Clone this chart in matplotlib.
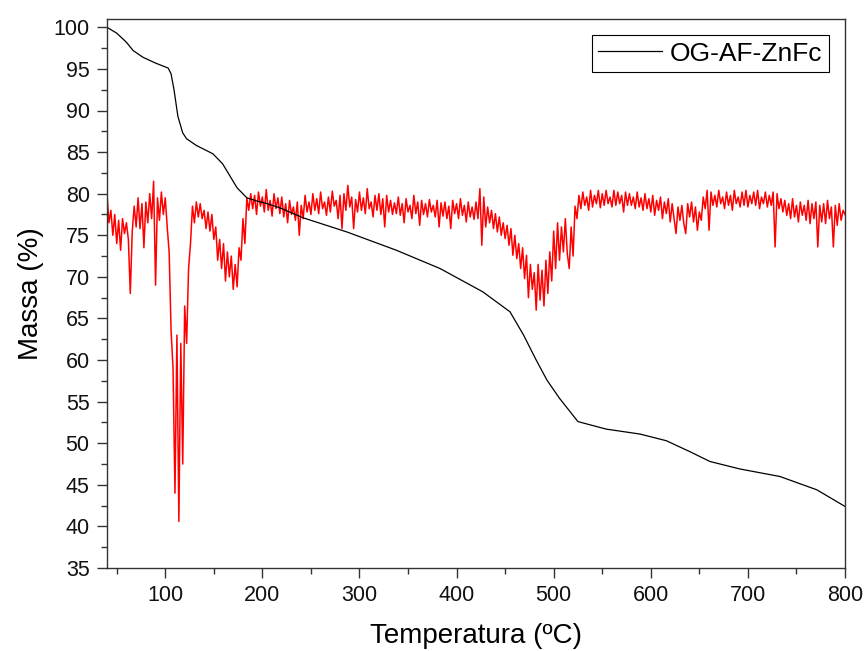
"""TGA / DTG curve for OG-AF-ZnFc."""
import numpy as np
import matplotlib
matplotlib.use("Agg")
import matplotlib.pyplot as plt
from matplotlib.ticker import MultipleLocator

plt.rcParams["font.family"] = ["Liberation Sans", "DejaVu Sans"]

# --- TGA mass loss (black) ---
tga_temp = [40, 50, 60, 67, 77, 90, 103, 106, 109, 113, 118, 122, 132, 149, 159,
            174, 184, 195, 205, 218, 242, 287, 338, 383, 427, 455, 469, 482,
            493, 506, 525, 554, 589, 616, 640, 661, 692, 733, 771, 800]
tga_mass = [100.0, 99.3, 98.2, 97.2, 96.4, 95.7, 95.1, 94.4, 92.5, 89.3, 87.3,
            86.6, 85.8, 84.8, 83.6, 80.7, 79.5, 79.1, 78.8, 78.3, 77.1, 75.4,
            73.2, 71.0, 68.2, 65.8, 63.0, 60.0, 57.6, 55.4, 52.6, 51.7, 51.1,
            50.3, 49.0, 47.8, 46.9, 46.0, 44.4, 42.4]

# --- DTG signal (red), sampled every 2 C from 40 to 800 ---
dtg_start, dtg_step = 40, 2
dtg_vals = [
    80.0, 76.5, 78.0, 75.0, 77.5, 74.0, 76.8, 73.2, 77.0, 75.2,   # 40
    76.5, 74.5, 68.0, 75.5, 78.5, 76.0, 79.5, 75.8, 78.8, 73.5,   # 60
    79.0, 76.5, 80.0, 77.0, 81.5, 69.0, 79.5, 76.8, 80.2, 77.5,   # 80
    79.5, 76.0, 73.0, 63.5, 59.0, 44.0, 63.0, 40.6, 62.0, 47.5,   # 100
    66.5, 62.0, 71.0, 74.0, 78.5, 76.5, 79.0, 77.2, 78.8, 77.0,   # 120
    78.0, 75.8, 77.8, 75.5, 77.5, 74.5, 76.0, 72.0, 74.5, 71.0,   # 140
    74.0, 69.5, 73.0, 70.0, 72.5, 68.5, 71.5, 68.8, 73.5, 72.0,   # 160
    77.0, 74.0, 79.5, 78.0, 80.0, 78.2, 79.8, 77.5, 80.2, 78.5,   # 180
    79.6, 77.8, 80.5, 78.0, 79.2, 77.3, 80.0, 78.2, 79.5, 77.6,   # 200
    79.6, 77.2, 78.8, 76.5, 79.2, 77.5, 78.4, 76.8, 79.0, 75.0,   # 220
    78.6, 77.0, 79.8, 77.8, 79.0, 77.5, 80.0, 78.0, 79.4, 77.6,   # 240
    80.2, 78.2, 79.0, 77.4, 79.6, 77.8, 80.3, 78.5, 79.2, 77.0,   # 260
    79.8, 75.8, 80.0, 78.0, 81.0, 78.4, 79.6, 75.8, 79.3, 77.8,   # 280
    80.2, 78.0, 79.5, 77.6, 80.6, 78.2, 79.0, 77.2, 79.8, 78.0,   # 300
    80.0, 77.5, 79.4, 76.0, 79.8, 77.8, 79.2, 77.5, 78.9, 77.6,   # 320
    79.6, 77.4, 78.8, 76.5, 79.4, 77.8, 78.6, 77.0, 79.8, 77.6,   # 340
    79.0, 76.2, 79.2, 77.5, 78.8, 77.2, 79.3, 77.8, 78.6, 77.2,   # 360
    79.2, 76.0, 78.9, 77.3, 79.0, 77.0, 78.5, 75.8, 79.2, 77.6,   # 380
    78.8, 77.0, 79.4, 77.4, 78.6, 76.6, 79.0, 77.2, 78.4, 76.9,   # 400
    79.0, 77.0, 80.6, 73.8, 79.6, 76.0, 78.4, 76.5, 78.0, 75.8,   # 420
    77.6, 75.4, 77.2, 75.0, 76.5, 74.6, 76.2, 73.8, 75.8, 72.6,   # 440
    75.0, 72.2, 74.0, 71.0, 73.5, 69.8, 72.6, 67.5, 71.5, 68.5,   # 460
    70.5, 66.0, 71.5, 67.2, 70.8, 66.5, 72.0, 68.0, 73.0, 69.5,   # 480
    75.5, 71.0, 76.5, 72.0, 76.0, 73.0, 77.0, 72.8, 71.0, 76.0,   # 500
    72.5, 78.5, 77.0, 79.8, 78.2, 80.2, 78.6, 79.6, 78.0, 80.4,   # 520
    78.4, 79.8, 78.8, 80.4, 78.3, 80.0, 78.6, 80.4, 78.8, 79.6,   # 540
    78.4, 80.4, 78.6, 80.2, 78.8, 79.8, 77.8, 80.2, 78.6, 80.0,   # 560
    78.6, 79.6, 78.2, 80.2, 78.4, 79.5, 78.0, 80.0, 78.2, 79.4,   # 580
    77.8, 79.8, 77.4, 79.2, 78.0, 79.6, 77.0, 79.0, 77.6, 79.4,   # 600
    76.6, 78.8, 77.0, 75.2, 78.4, 76.8, 78.6, 76.4, 75.2, 78.8,   # 620
    77.2, 79.0, 76.6, 78.4, 75.6, 77.8, 76.8, 79.6, 78.2, 80.4,   # 640
    75.6, 80.2, 78.6, 79.8, 78.4, 80.4, 78.8, 79.6, 78.2, 80.2,   # 660
    78.6, 79.8, 78.0, 80.4, 78.8, 79.6, 78.4, 80.2, 78.6, 80.4,   # 680
    78.4, 79.8, 78.8, 80.2, 78.6, 80.4, 78.2, 79.6, 78.8, 80.2,   # 700
    78.4, 79.8, 78.6, 80.2, 73.6, 80.0, 78.2, 79.4, 77.8, 79.2,   # 720
    77.4, 78.8, 77.0, 79.4, 77.2, 78.6, 76.6, 79.0, 77.4, 78.6,   # 740
    76.8, 79.2, 76.4, 78.8, 77.0, 79.0, 73.6, 78.6, 76.6, 78.8,   # 760
    76.4, 79.2, 77.0, 78.4, 73.6, 78.6, 76.2, 78.8, 76.8, 78.0,   # 780
    77.5,                                                         # 800
]
dtg_temp = dtg_start + dtg_step * np.arange(len(dtg_vals))

fig = plt.figure(figsize=(8.67, 6.51), dpi=100)
ax = fig.add_axes([107 / 867, 83 / 651, 738 / 867, 549 / 651])

ax.plot(dtg_temp, dtg_vals, color="red", linewidth=1.1)
ax.plot(tga_temp, tga_mass, color="black", linewidth=0.9, label="OG-AF-ZnFc")

ax.set_xlim(40, 800)
ax.set_ylim(35, 101)
ax.xaxis.set_major_locator(MultipleLocator(100))
ax.xaxis.set_minor_locator(MultipleLocator(50))
ax.yaxis.set_major_locator(MultipleLocator(5))
ax.yaxis.set_minor_locator(MultipleLocator(2.5))
ax.tick_params(which="major", direction="out", length=7.5, width=1.0,
               labelsize=15.5, colors="#333333", labelcolor="#111111")
ax.tick_params(which="minor", direction="out", length=4.5, width=1.0,
               colors="#333333")
ax.tick_params(axis="x", pad=5)
ax.tick_params(axis="y", pad=5)
for sp in ax.spines.values():
    sp.set_color("#333333")
    sp.set_linewidth(1.0)

ax.set_xlabel("Temperatura (ºC)", fontsize=20, labelpad=12)
ax.set_ylabel("Massa (%)", fontsize=20, labelpad=7)

leg = ax.legend(loc="upper right", bbox_to_anchor=(0.978, 0.971),
                borderaxespad=0, fontsize=19, fancybox=False,
                edgecolor="black", framealpha=1, handlelength=2.4,
                handletextpad=0.3, borderpad=0.25)
leg.get_frame().set_linewidth(0.8)

fig.savefig("out.png", dpi=100)
